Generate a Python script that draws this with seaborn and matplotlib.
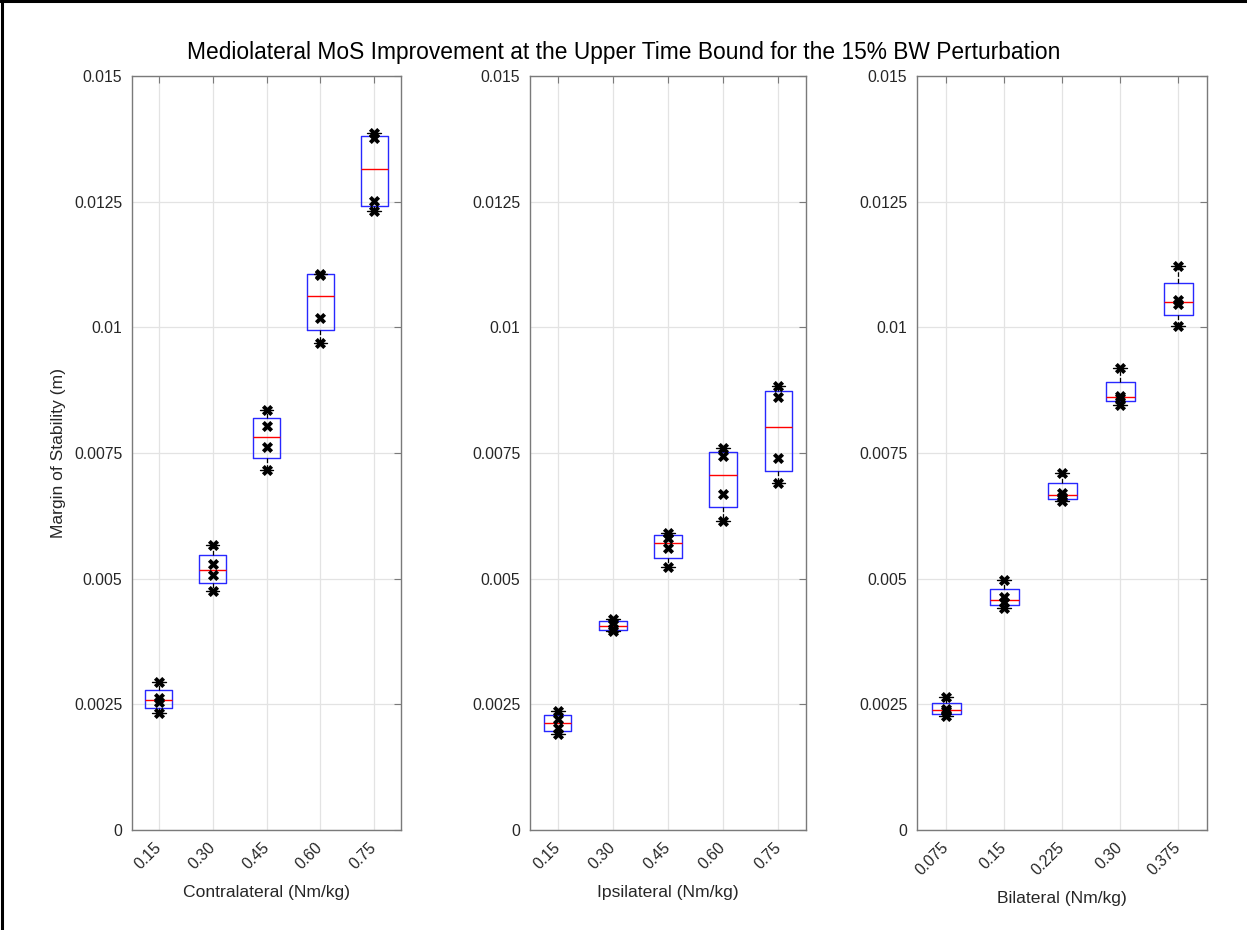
import numpy as np
import pandas as pd
import matplotlib
matplotlib.use("Agg")
import matplotlib.pyplot as plt
from matplotlib.lines import Line2D
import seaborn as sns

# ---------------- data ----------------
title = "Mediolateral MoS Improvement at the Upper Time Bound for the 15% BW Perturbation"
y_label = "Margin of Stability (m)"

contra_label = "Contralateral (Nm/kg)"
contra_levels = ["0.15", "0.30", "0.45", "0.60", "0.75"]
contra_values = [
    [0.00232, 0.00254, 0.00262, 0.00294],
    [0.00475, 0.00507, 0.00529, 0.00566],
    [0.00717, 0.00762, 0.00803, 0.00836],
    [0.00969, 0.01019, 0.01105, 0.01107],
    [0.01231, 0.01252, 0.01376, 0.01386],
]

ipsi_label = "Ipsilateral (Nm/kg)"
ipsi_levels = ["0.15", "0.30", "0.45", "0.60", "0.75"]
ipsi_values = [
    [0.00191, 0.00203, 0.00221, 0.00237],
    [0.00395, 0.00400, 0.00411, 0.00420],
    [0.00523, 0.00561, 0.00581, 0.00591],
    [0.00615, 0.00669, 0.00745, 0.00759],
    [0.00690, 0.00740, 0.00862, 0.00884],
]

bi_label = "Bilateral (Nm/kg)"
bi_levels = ["0.075", "0.15", "0.225", "0.30", "0.375"]
bi_values = [
    [0.00226, 0.00236, 0.00240, 0.00265],
    [0.00441, 0.00453, 0.00463, 0.00497],
    [0.00654, 0.00662, 0.00670, 0.00710],
    [0.00845, 0.00860, 0.00864, 0.00920],
    [0.01003, 0.01047, 0.01055, 0.01123],
]

y_ticks = [0, 0.0025, 0.005, 0.0075, 0.01, 0.0125, 0.015]
y_ticklabels = ["0", "0.0025", "0.005", "0.0075", "0.01", "0.0125", "0.015"]

# ---------------- style ----------------
sns.set_theme(style="white")
plt.rcParams["font.family"] = ["Liberation Sans", "DejaVu Sans"]

W, H = 1247, 930
fig = plt.figure(figsize=(W / 100, H / 100), dpi=100)

BLUE = "#2828ff"
SPINE = "#7a7a7a"
TXT = "#262626"
GRID = "#e3e3e3"

# MATLAB-style quartiles (n*p + 0.5 interpolation)
_orig_percentile = np.percentile


def _hazen_percentile(a, q, *args, **kw):
    kw.setdefault("method", "hazen")
    return _orig_percentile(a, q, *args, **kw)


panels = [
    (contra_levels, contra_values, contra_label, 132, 401),
    (ipsi_levels, ipsi_values, ipsi_label, 530, 806),
    (bi_levels, bi_values, bi_label, 917, 1207),
]
top_px, bottom_px = 76, 830

axes = []
for i, (levels, values, xlab, lpx, rpx) in enumerate(panels):
    ax = fig.add_axes([lpx / W, 1 - bottom_px / H, (rpx - lpx) / W, (bottom_px - top_px) / H])
    axes.append(ax)
    df = pd.DataFrame({
        "level": np.repeat(levels, [len(v) for v in values]),
        "value": np.concatenate(values),
    })
    np.percentile = _hazen_percentile
    try:
        sns.boxplot(
            data=df, x="level", y="value", order=levels, ax=ax,
            width=0.5, whis=1.5, fill=False, color=BLUE, saturation=1,
            linewidth=1.0, showfliers=False,
            medianprops=dict(color="red", linewidth=1.0),
            whiskerprops=dict(color="black", linestyle="--", linewidth=0.9),
            capprops=dict(color="black", linewidth=1.0),
        )
    finally:
        np.percentile = _orig_percentile
    sns.stripplot(
        data=df, x="level", y="value", order=levels, ax=ax,
        jitter=False, color="black", marker="X", size=8, linewidth=0, zorder=5,
    )

    ax.set_xlim(-0.5, len(levels) - 0.5)
    ax.set_ylim(0, 0.015)
    ax.set_yticks(y_ticks)
    ax.set_yticklabels(y_ticklabels)
    ax.set_xticks(range(len(levels)))
    ax.set_xticklabels(levels, rotation=45, ha="right", va="center",
                       rotation_mode="anchor")
    ax.grid(True, color=GRID, linewidth=0.9)
    ax.set_axisbelow(True)
    for s in ax.spines.values():
        s.set_color(SPINE)
        s.set_linewidth(1.0)
        s.set_visible(True)
    ax.tick_params(direction="in", top=True, right=True, length=5, width=0.8,
                   color=SPINE, labelsize=11.3, labelcolor=TXT)
    ax.tick_params(axis="x", pad=11)
    ax.tick_params(axis="y", pad=7)
    ax.set_xlabel(xlab, fontsize=12.6, color=TXT, labelpad=9)
    if i == 0:
        ax.set_ylabel(y_label, fontsize=12.6, color=TXT)
        ax.yaxis.set_label_coords(-0.245, 0.5)
    else:
        ax.set_ylabel("")

fig.text(0.5, 1 - 52 / H, title, ha="center", va="center", fontsize=16.4, color="black")

# screenshot frame (left and top edges)
fig.add_artist(Line2D([1.5 / W, 1.5 / W], [0, 1], color="black", linewidth=2.2,
                      transform=fig.transFigure))
fig.add_artist(Line2D([0, 1], [1 - 1.5 / H, 1 - 1.5 / H], color="black", linewidth=2.2,
                      transform=fig.transFigure))

fig.savefig("out.png", dpi=100, facecolor="white")
